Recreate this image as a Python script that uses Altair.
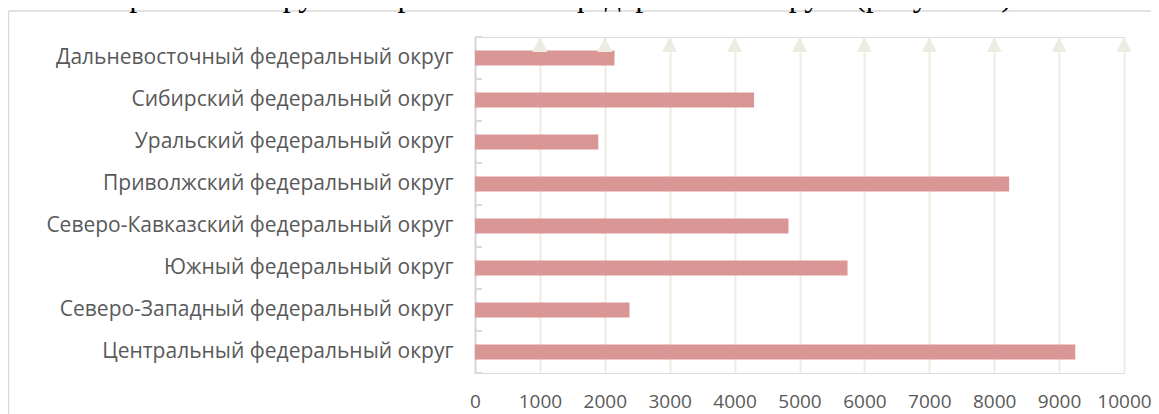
import altair as alt
import pandas as pd

categories = [
    "Дальневосточный федеральный округ",
    "Сибирский федеральный округ",
    "Уральский федеральный округ",
    "Приволжский федеральный округ",
    "Северо-Кавказский федеральный округ",
    "Южный федеральный округ",
    "Северо-Западный федеральный округ",
    "Центральный федеральный округ",
]
values = [2150, 4300, 1900, 8230, 4830, 5740, 2380, 9250]
x_ticks = [0, 1000, 2000, 3000, 4000, 5000, 6000, 7000, 8000, 9000, 10000]
arrow_ticks = [1000, 2000, 3000, 4000, 5000, 6000, 7000, 8000, 9000, 10000]
caption = "ральном округе и Приволжском федеральном округе (рисунок 1)."

PAD_L = 467
W, H = 649, 336
TOTAL_W = 1143
GRID = "#EEECE1"
AXIS = "#D9D9D9"
LABEL = "#595959"
BAR = "#D99694"

df = pd.DataFrame({"cat": categories, "val": values})

xscale = alt.Scale(domain=[0, 10000], nice=False)
yscale = alt.Scale(domain=categories, paddingInner=0, paddingOuter=0)

bars = alt.Chart(df).mark_bar(size=15, color=BAR).encode(
    x=alt.X("val:Q", scale=xscale,
            axis=alt.Axis(values=x_ticks, format="d", title=None, domain=False,
                          ticks=False, grid=True, gridColor=GRID, gridWidth=2,
                          labelFont="Open Sans", labelFontSize=19, labelColor=LABEL,
                          labelPadding=19, labelFlush=False)),
    y=alt.Y("cat:N", scale=yscale, sort=categories,
            axis=alt.Axis(title=None, domain=True, domainColor=AXIS, domainWidth=2,
                          ticks=False, grid=False, labelFont="Open Sans",
                          labelFontSize=21, labelColor=LABEL, labelPadding=22,
                          labelLimit=500)),
)

ytick = alt.Chart(df).mark_rule(color=AXIS, strokeWidth=2).encode(
    y=alt.Y("cat:N", scale=yscale, sort=categories, bandPosition=0),
    x=alt.value(0), x2=alt.value(7),
)
ytick_bottom = alt.Chart(df.head(1)).mark_rule(color=AXIS, strokeWidth=2).encode(
    y=alt.value(H), x=alt.value(0), x2=alt.value(7),
)

arrows = alt.Chart(pd.DataFrame({"v": arrow_ticks})).mark_point(
    shape="M0,-1L-1,1L1,1Z", size=225, filled=True, opacity=1, color=GRID
).encode(
    x=alt.X("v:Q", scale=xscale),
    y=alt.value(7.5),
)

border_h = alt.Chart(df.head(1)).mark_rule(color=AXIS, strokeWidth=1.5).encode(
    x=alt.value(0.5 - PAD_L), x2=alt.value(720), y=alt.value(-26),
)
border_v = alt.Chart(df.head(1)).mark_rule(color=AXIS, strokeWidth=1.5).encode(
    x=alt.value(0.5 - PAD_L), y=alt.value(-26), y2=alt.value(400),
)

cap = alt.Chart(pd.DataFrame({"t": [caption]})).mark_text(
    font="Liberation Serif", fontSize=32, color="#000000", align="right",
    baseline="alphabetic"
).encode(
    x=alt.value(1020 - 8 - PAD_L), y=alt.value(-31), text="t:N",
)

chart = alt.layer(
    bars, arrows, ytick, ytick_bottom, border_h, border_v, cap
).properties(
    width=W, height=H,
    autosize=alt.AutoSizeParams(type="none"),
    padding={"left": PAD_L, "top": 29, "right": TOTAL_W - PAD_L - W, "bottom": 41},
).configure_view(stroke=None).configure(background="white")

chart.save("out.html", embed_options={"renderer": "svg", "actions": False})
